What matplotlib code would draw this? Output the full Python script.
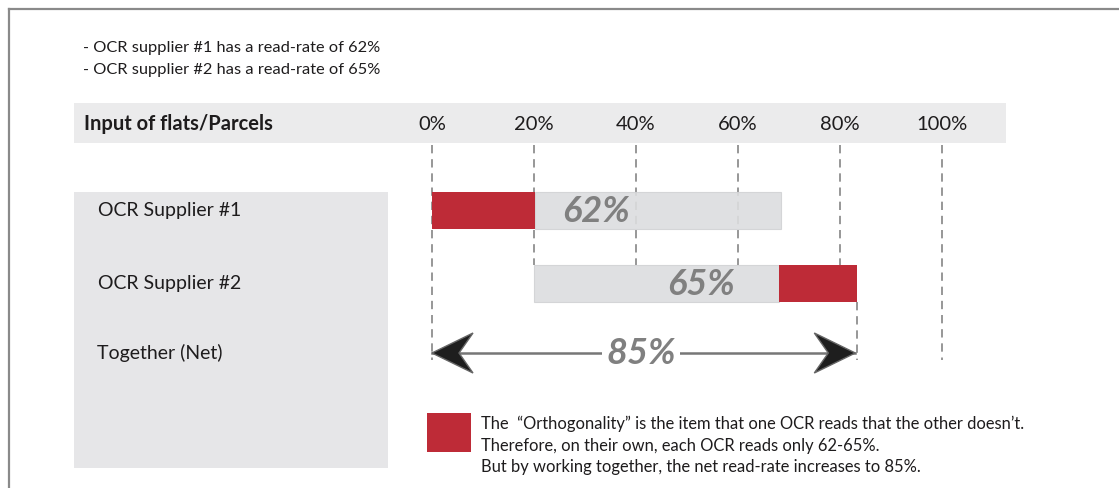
import matplotlib
matplotlib.use("Agg")
import matplotlib.pyplot as plt
from matplotlib.patches import Rectangle, Polygon

plt.rcParams['font.family'] = ['Lato', 'DejaVu Sans']

# data
notes = ["OCR supplier #1 has a read-rate of 62%",
         "OCR supplier #2 has a read-rate of 65%"]
ticks = [0, 20, 40, 60, 80, 100]
rows = ["OCR Supplier #1", "OCR Supplier #2", "Together (Net)"]
# (start, end) of the red and grey pieces of each supplier bar
red_parts = [(0, 20.2), (68.0, 83.3)]
grey_parts = [(20.2, 68.4), (20.0, 68.0)]
rate_labels = ["62%", "65%"]
net_end = 83.0
net_label = "85%"
legend_lines = ["The  \u201cOrthogonality\u201d is the item that one OCR reads that the other doesn\u2019t.",
                "Therefore, on their own, each OCR reads only 62-65%.",
                "But by working together, the net read-rate increases to 85%."]

RED = "#BE2B37"
GREY = "#DCDDDF"
DASH = "#858585"
INK = "#1e1c1d"

W, H = 1119, 488
X0, PX = 432, 5.1          # pixel of 0 % and pixels per %
row_y = [210.5, 283.5, 353]
bar_h = 37
label_x = [32.2, 52.7]     # where the big % labels sit (in %)
net_label_x = 41.0

fig = plt.figure(figsize=(W / 100, H / 100), dpi=100)
bg = fig.add_axes([0, 0, 1, 1])
bg.set_xlim(0, W)
bg.set_ylim(H, 0)
bg.axis('off')

# frame
bg.plot([9, W], [9, 9], color="#8a8a8a", lw=1.6)
bg.plot([9, 9], [9, H], color="#8a8a8a", lw=1.6)

# header band and row label panel
bg.add_patch(Rectangle((74, 103), 932, 40, color="#EBEBEC", lw=0))
bg.add_patch(Rectangle((74, 192), 314, 276, color="#E6E6E8", lw=0))
bg.text(84, 124, "Input of flats/Parcels", fontsize=14.5, fontweight='bold',
        va='center', color=INK)

for i, n in enumerate(notes):
    bg.text(83, 48 + 22 * i, "- " + n, fontsize=11.8, va='center', color=INK)

for i, r in enumerate(rows):
    bg.text(98 if i < 2 else 97, row_y[i], r, fontsize=14, va='center', color=INK)

# data axes: x in percent
ax = fig.add_axes([0, 0, 1, 1])
ax.set_xlim(-X0 / PX, (W - X0) / PX)
ax.set_ylim(H, 0)
ax.axis('off')
ax.patch.set_alpha(0)

for t in ticks:
    ax.text(t, 125, f"{t}%", fontsize=14.5, ha='center', va='center', color=INK)
    bottom = 360 if t in (0, 100) else 265
    ax.plot([t, t], [145, bottom], color=DASH, lw=1.2, dashes=(5, 3.5), zorder=1)
ax.plot([red_parts[1][1]] * 2, [302, 360], color=DASH, lw=1.2, dashes=(5, 3.5), zorder=1)

for i in range(2):
    g0, g1 = grey_parts[i]
    r0, r1 = red_parts[i]
    ax.barh(row_y[i], g1 - g0, left=g0, height=bar_h, color=GREY,
            edgecolor="#D2D3D5", lw=0.8, alpha=0.9, zorder=2)
    ax.barh(row_y[i], r1 - r0, left=r0, height=bar_h, color=RED, lw=0, zorder=3)
    ax.text(label_x[i], row_y[i] + 1, rate_labels[i], fontsize=26, fontweight='bold',
            style='italic', color="#808080", ha='center', va='center', zorder=4)

# net arrow
y = row_y[2]
ax.plot([0, net_end], [y, y], color="#777777", lw=1.8, zorder=2)
ax.text(net_label_x, y + 1, net_label, fontsize=26, fontweight='bold', style='italic',
        color="#808080", ha='center', va='center', zorder=4,
        bbox=dict(facecolor='white', edgecolor='none', pad=3))


def head(tip, direction):
    L, N, half = 41 / PX, 27 / PX, 20
    pts = [(tip, y), (tip + direction * L, y - half), (tip + direction * N, y),
           (tip + direction * L, y + half)]
    ax.add_patch(Polygon(pts, closed=True, facecolor="#1e1e1e",
                         edgecolor="#666666", lw=1, zorder=5))


head(0, 1)
head(net_end, -1)

# legend
bg.add_patch(Rectangle((427, 413), 44, 39, color=RED, lw=0))
for i, line in enumerate(legend_lines):
    bg.text(481, 424 + 21.5 * i, line, fontsize=11.9, va='center', color=INK)

fig.savefig("out.png", dpi=100)
